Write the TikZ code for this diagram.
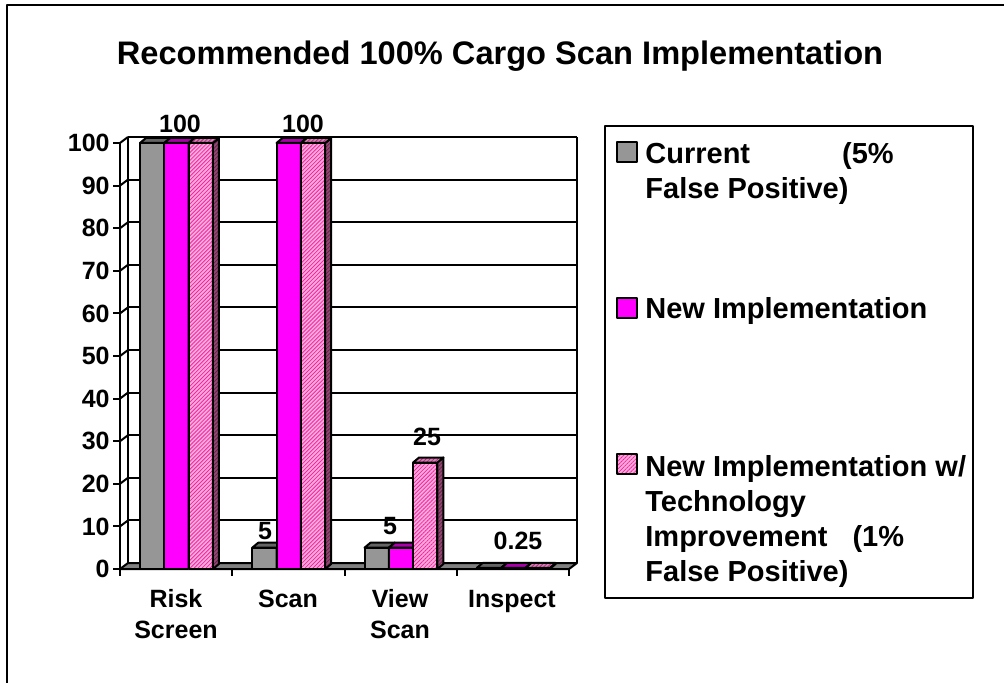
\documentclass[tikz,border=0pt]{standalone}
\usepackage{fontspec}
\setmainfont{Liberation Sans}
\usetikzlibrary{patterns.meta}

\definecolor{cgray}{RGB}{150,150,150}
\definecolor{cgraytop}{RGB}{100,100,100}
\definecolor{cfloor}{RGB}{128,128,128}
\definecolor{cmag}{RGB}{255,0,255}
\definecolor{cmagtop}{RGB}{170,0,170}
\definecolor{cpink}{RGB}{255,170,215}
\definecolor{cpinkside}{RGB}{150,70,115}
\definecolor{cpinkhatch}{RGB}{235,40,170}

\tikzset{
  chartline/.style={line width=1pt,line join=round},
  curfront/.style={chartline,fill=cgray},
  curtop/.style={chartline,fill=cgraytop},
  newfront/.style={chartline,fill=cmag},
  newtop/.style={chartline,fill=cmagtop},
  techfront/.style={chartline,preaction={fill=cpink},
    pattern={Lines[angle=45,distance=1.4pt,line width=.4pt]},pattern color=cpinkhatch},
  techtop/.style={chartline,preaction={fill=cpink!80!black},
    pattern={Lines[angle=45,distance=1.4pt,line width=.4pt]},pattern color=cpinkhatch!80!black},
  techside/.style={chartline,preaction={fill=cpinkside},
    pattern={Lines[angle=45,distance=1.4pt,line width=.4pt]},pattern color=cpinkside!60!black},
  axislbl/.style={font=\fontsize{12.5}{15.5}\selectfont\bfseries,inner sep=0pt},
  leglbl/.style={font=\fontsize{14.5}{17.5}\selectfont\bfseries,inner sep=0pt,
    align=left,anchor=north west},
}

% x, value, front, top, side
\newcommand{\cargobar}[5]{%
  \pgfmathsetmacro{\yt}{569-4.26*#2}
  \draw[#3] (#1,569) rectangle (#1+24.3,\yt);
  \draw[#5] (#1+24.3,569) -- (#1+24.3,\yt) -- (#1+30.3,\yt-5) -- (#1+30.3,564) -- cycle;
  \draw[#4] (#1,\yt) -- (#1+6,\yt-5) -- (#1+30.3,\yt-5) -- (#1+24.3,\yt) -- cycle;
}

\begin{document}
\begin{tikzpicture}[x=0.5pt,y=-0.5pt]
\useasboundingbox (0,0) rectangle (1004,683);

%cornice
\draw[chartline] (7,5) rectangle (1020,700);

\node[font=\fontsize{16.3}{19}\selectfont\bfseries] (title) at (500,56)
  {Recommended 100\% Cargo Scan Implementation};

%pareti e griglia
\begin{scope}
\coordinate (o) at (120,569);
\coordinate (ob) at (128,563);
\foreach \v in {10,20,...,100}{
  \draw[chartline] (128,563-4.26*\v) -- (577,563-4.26*\v);
  \draw[chartline] (120,569-4.26*\v) -- (128,563-4.26*\v);
}
\foreach \v in {0,10,...,100}{
  \draw[chartline] (113,569-4.26*\v) -- (120,569-4.26*\v);
  \node[axislbl,anchor=east] (y\v) at (110,569-4.26*\v) {\v};
}
\draw[chartline] (o) -- (120,143);
\draw[chartline] (ob) -- (128,137);
\draw[chartline] (577,563) -- (577,137);
\draw[chartline,fill=cfloor] (o) -- (ob) -- (577,563) -- (569,569) -- cycle;
\foreach \i in {0,...,4}
  \draw[chartline] (120+112.25*\i,569) -- ++(0,7);
\end{scope}

%barre
\foreach \i/\a/\b/\c in {0/100/100/100, 1/5/100/100, 2/5/5/25, 3/0.25/0.25/0.25}{
  \pgfmathsetmacro{\xa}{140+112.25*\i}
  \cargobar{\xa}{\a}{curfront}{curtop}{curtop}
  \cargobar{\xa+24.3}{\b}{newfront}{newtop}{newtop}
  \cargobar{\xa+48.6}{\c}{techfront}{techtop}{techside}
}

%etichette dati
\node[axislbl] (v1) at (180,124) {100};
\node[axislbl] (v2) at (303,124) {100};
\node[axislbl] (v3) at (265,531) {5};
\node[axislbl] (v4) at (390,526) {5};
\node[axislbl] (v5) at (427,437) {25};
\node[axislbl] (v6) at (518,541) {0.25};

%categorie
\node[axislbl,align=center,anchor=north] (c1) at (176,589) {Risk\\Screen};
\node[axislbl,align=center,anchor=north] (c2) at (288,590) {Scan};
\node[axislbl,align=center,anchor=north] (c3) at (400,589) {View\\Scan};
\node[axislbl,align=center,anchor=north] (c4) at (512,590) {Inspect};

%legenda
\draw[chartline] (605,126) rectangle (973,598);
\draw[curfront] (617,142) rectangle (637,162);
\node[leglbl] (l1) at (645,142) {Current\hspace{46pt}(5\%\\False Positive)};
\draw[newfront] (617,298) rectangle (637,318);
\node[leglbl] (l2) at (645,297) {New Implementation};
\draw[techfront] (617,454) rectangle (637,474);
\node[leglbl] (l3) at (645,455)
  {New Implementation w/\\Technology\\Improvement\hspace{12.5pt}(1\%\\False Positive)};

\end{tikzpicture}
\end{document}
